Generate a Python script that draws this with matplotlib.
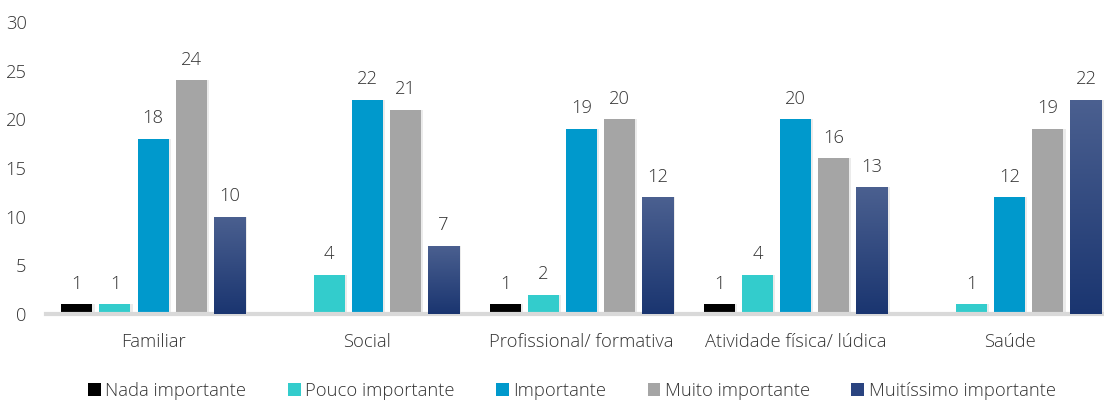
import numpy as np
import matplotlib
matplotlib.use("Agg")
import matplotlib.pyplot as plt
from matplotlib.patches import Patch
from matplotlib.colors import LinearSegmentedColormap

categories = ["Familiar", "Social", "Profissional/ formativa",
              "Atividade física/ lúdica", "Saúde"]
series = ["Nada importante", "Pouco importante", "Importante",
          "Muito importante", "Muitíssimo importante"]
nada = [1, 0, 1, 1, 0]
pouco = [1, 4, 2, 4, 1]
importante = [18, 22, 19, 20, 12]
muito = [24, 21, 20, 16, 19]
muitissimo = [10, 7, 12, 13, 22]
values = [nada, pouco, importante, muito, muitissimo]
colors = ["#000000", "#33CCCC", "#0099CC", "#A5A5A5", "#2A4480"]

plt.rcParams["font.family"] = ["Open Sans", "DejaVu Sans"]
plt.rcParams["font.weight"] = "light"
text_color = "#333333"
fs = 13.2

fig = plt.figure(figsize=(11.04, 4.01), dpi=100)
ax = fig.add_axes([46 / 1104, 1 - 314 / 401, 1058 / 1104, 292 / 401])

step = 0.178
width = 0.145
x = np.arange(len(categories))
grad = LinearSegmentedColormap.from_list("g", ["#1A3570", "#4B6090"])

for i, (vals, col) in enumerate(zip(values, colors)):
    xs = x + (i - 2) * step
    for xi, v in zip(xs, vals):
        if v == 0:
            continue
        # faint shadow
        ax.bar(xi + 0.006, v, width + 0.008, color="#000000", alpha=0.08,
               zorder=1, linewidth=0)
        b = ax.bar(xi, v, width, color=col, zorder=2, linewidth=0)[0]
        if i == 4:
            img = ax.imshow(np.linspace(0, 1, 256).reshape(-1, 1), cmap=grad,
                            aspect="auto", origin="lower",
                            extent=[xi - width / 2, xi + width / 2, 0, v],
                            zorder=3)
            img.set_clip_path(b)
        ax.text(xi, v + 1.2, str(v), ha="center", va="bottom",
                fontsize=fs, color=text_color)

ax.set_xlim(-0.5, 4.44)
ax.set_ylim(0, 30)
ax.set_yticks(range(0, 31, 5))
ax.set_xticks(x)
ax.set_xticklabels(categories)
ax.tick_params(axis="both", length=0, labelsize=fs, colors=text_color)
ax.tick_params(axis="y", pad=14)
ax.tick_params(axis="x", pad=14)
for s in ["top", "right", "left"]:
    ax.spines[s].set_visible(False)
ax.spines["bottom"].set_color("#D9D9D9")
ax.spines["bottom"].set_linewidth(3)

handles = [Patch(facecolor=c, edgecolor="none", label=s)
           for s, c in zip(series, colors)]
fig.legend(handles=handles, loc="center", bbox_to_anchor=(0.518, 1 - 391 / 401),
           ncol=5, frameon=False, fontsize=fs, handlelength=0.7,
           handleheight=0.7, handletextpad=0.25, columnspacing=2.25,
           labelcolor=text_color)

fig.savefig("out.png", dpi=100)
